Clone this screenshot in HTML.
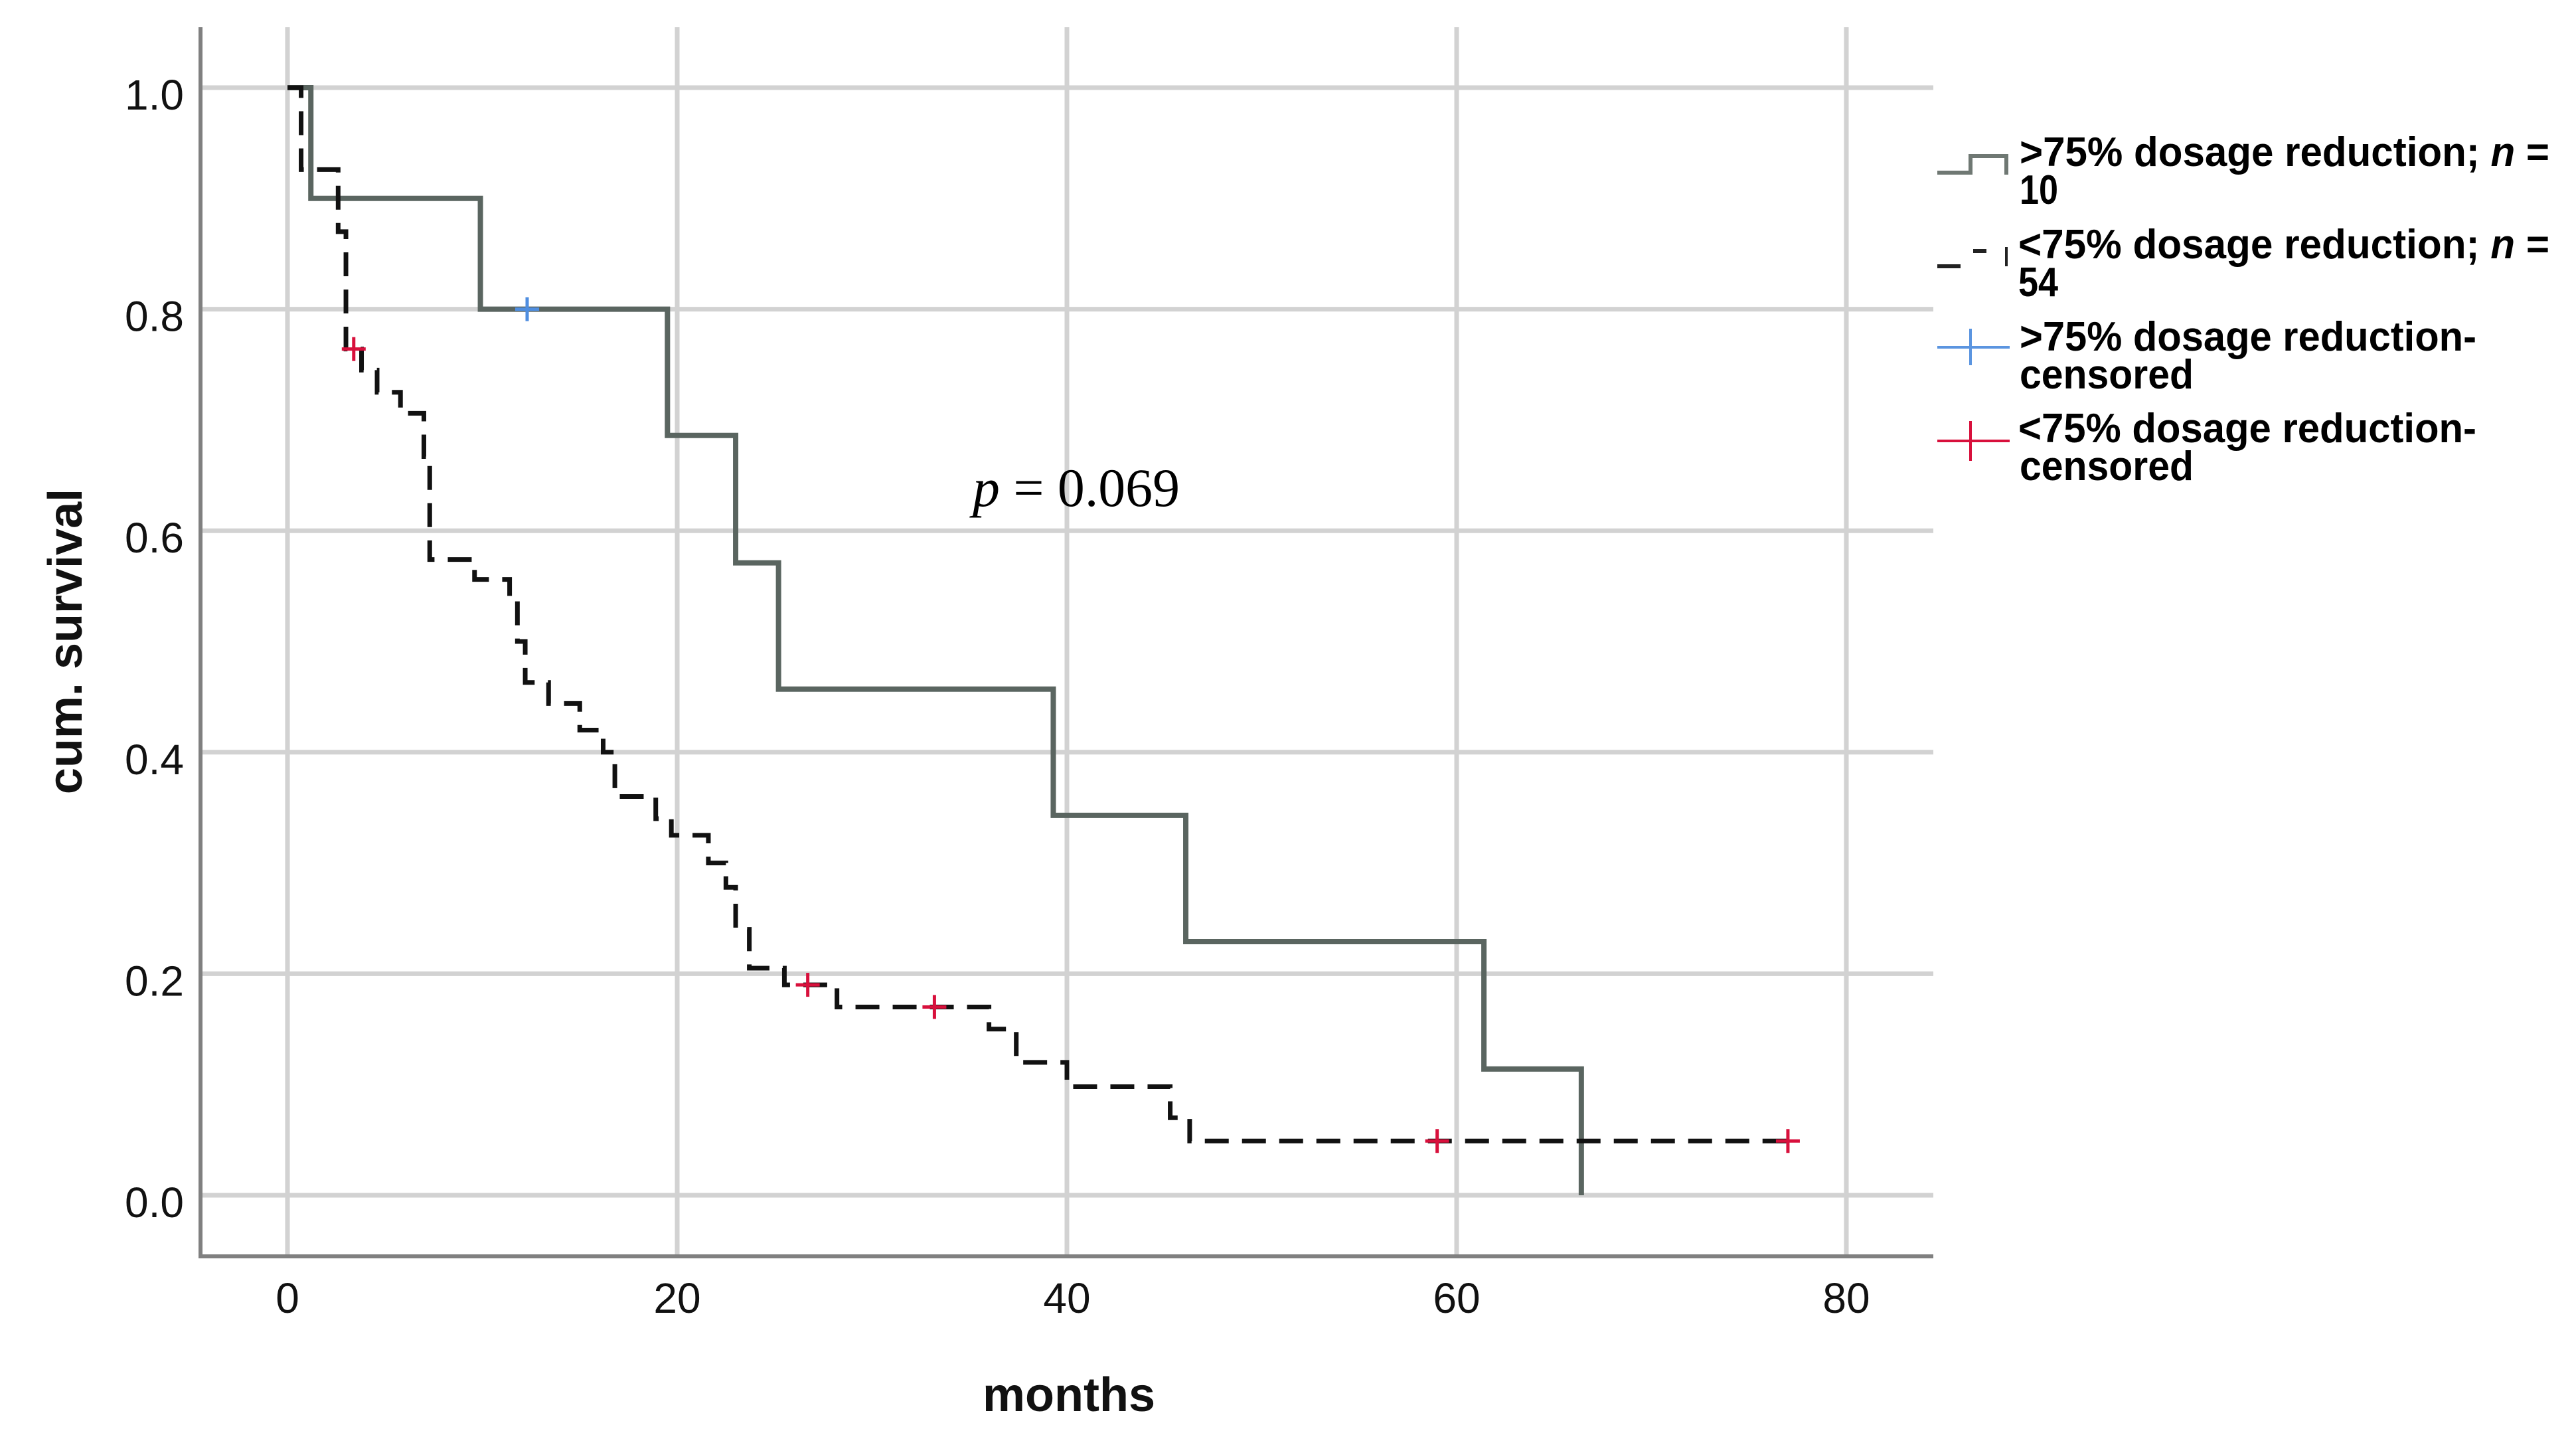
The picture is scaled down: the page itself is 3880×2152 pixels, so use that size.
<!DOCTYPE html>
<html><head><meta charset="utf-8"><style>
html,body{margin:0;padding:0;background:#fff;}
svg{display:block;}
</style></head><body>
<svg id="chart" width="3880" height="2152" viewBox="0 0 3880 2152" xmlns="http://www.w3.org/2000/svg">
<g id="grid"></g>
<g id="axes"></g>
<g id="series"></g>
<text x="1465" y="762" font-family="Liberation Serif, serif" font-size="82" fill="#000" textLength="312" lengthAdjust="spacingAndGlyphs"><tspan font-style="italic">p</tspan> = 0.069</text>
<text x="1610" y="2125" text-anchor="middle" font-family="Liberation Sans, sans-serif" font-weight="bold" font-size="72" fill="#111">months</text>
<text transform="translate(123,966) rotate(-90)" text-anchor="middle" font-family="Liberation Sans, sans-serif" font-weight="bold" font-size="72" fill="#111">cum. survival</text>
<g font-family="Liberation Sans, sans-serif" font-weight="bold" font-size="62" fill="#000">
  <g>
    <polyline points="2918,260 2968,260 2968,235 3022,235 3022,263" fill="none" stroke="#6f7873" stroke-width="6"/>
    <text x="3042" y="250" textLength="798" lengthAdjust="spacingAndGlyphs">&gt;75% dosage reduction; <tspan font-style="italic">n</tspan> =</text>
    <text x="3042" y="307" textLength="58" lengthAdjust="spacingAndGlyphs">10</text>
  </g>
  <g>
    <line x1="2918" y1="401" x2="2953" y2="401" stroke="#222" stroke-width="6"/>
    <line x1="2972" y1="378" x2="2992" y2="378" stroke="#222" stroke-width="6"/>
    <line x1="3022" y1="372" x2="3022" y2="401" stroke="#222" stroke-width="4"/>
    <text x="3040" y="389" textLength="800" lengthAdjust="spacingAndGlyphs">&lt;75% dosage reduction; <tspan font-style="italic">n</tspan> =</text>
    <text x="3040" y="446" textLength="60" lengthAdjust="spacingAndGlyphs">54</text>
  </g>
  <g>
    <line x1="2918" y1="523" x2="3027" y2="523" stroke="#5b95e0" stroke-width="4"/>
    <line x1="2968" y1="495" x2="2968" y2="550" stroke="#5b95e0" stroke-width="4"/>
    <text x="3042" y="528" textLength="688" lengthAdjust="spacingAndGlyphs">&gt;75% dosage reduction-</text>
    <text x="3042" y="585" textLength="262" lengthAdjust="spacingAndGlyphs">censored</text>
  </g>
  <g>
    <line x1="2918" y1="664" x2="3027" y2="664" stroke="#d8103c" stroke-width="4"/>
    <line x1="2968" y1="634" x2="2968" y2="694" stroke="#d8103c" stroke-width="4"/>
    <text x="3040" y="666" textLength="690" lengthAdjust="spacingAndGlyphs">&lt;75% dosage reduction-</text>
    <text x="3042" y="723" textLength="262" lengthAdjust="spacingAndGlyphs">censored</text>
  </g>
</g>
</svg>
<script>
const xTicks = [0, 20, 40, 60, 80];
const yTicks = [0.0, 0.2, 0.4, 0.6, 0.8, 1.0];
const yTickLabels = ["0.0", "0.2", "0.4", "0.6", "0.8", "1.0"];
// >75% group: event times and survival after each step
const highTimes = [1.2, 9.9, 19.5, 23.0, 25.2, 39.3, 46.1, 61.4, 66.4];
const highSurv = [0.9, 0.8, 0.686, 0.571, 0.457, 0.343, 0.229, 0.114, 0.0];
const highEnd = 66.4;
const highCensorTimes = [12.3];
const highCensorSurv = [0.8];
// <75% group
const lowTimes = [0.7, 2.6, 3.0, 3.8, 4.6, 5.8, 7.0, 7.3, 9.6, 11.4, 11.8, 12.2, 13.4, 15.0, 16.2, 16.8, 18.9, 19.7, 21.6, 22.5, 23.0, 23.7, 25.5, 28.2, 36.0, 37.4, 40.0, 45.3, 46.3];
const lowSurv = [0.926, 0.87, 0.764, 0.745, 0.725, 0.706, 0.667, 0.574, 0.556, 0.537, 0.5, 0.463, 0.444, 0.42, 0.4, 0.36, 0.34, 0.325, 0.3, 0.278, 0.24, 0.205, 0.19, 0.17, 0.15, 0.12, 0.098, 0.07, 0.049];
const lowEnd = 77;
const lowCensorTimes = [3.4, 26.7, 33.2, 59.0, 77.0];
const lowCensorSurv = [0.764, 0.19, 0.17, 0.049, 0.049];

const X0 = 433, X80 = 2781, Y0 = 1800, Y1 = 132;
const PL = 302, PR = 2912, PT = 41, PB = 1892;
function sx(v){ return X0 + (X80 - X0) * v / 80; }
function sy(v){ return Y0 + (Y1 - Y0) * v; }
const NS = "http://www.w3.org/2000/svg";
function mk(tag, attrs, parent){
  const e = document.createElementNS(NS, tag);
  for (const k in attrs) e.setAttribute(k, attrs[k]);
  parent.appendChild(e);
  return e;
}
const grid = document.getElementById('grid');
const axes = document.getElementById('axes');
const series = document.getElementById('series');

xTicks.forEach(function(t){
  const l = mk('line', {x1: sx(t), y1: PT, x2: sx(t), y2: PB, stroke: '#d2d2d2', 'stroke-width': 7}, grid);
  
  
  const tx = mk('text', {x: sx(t), y: 1977, 'text-anchor': 'middle', 'font-family': 'Liberation Sans, sans-serif', 'font-size': 64, fill: '#111'}, axes);
  tx.textContent = String(t);
  
  
});
yTicks.forEach(function(t, i){
  const l = mk('line', {x1: PL, y1: sy(t), x2: PR, y2: sy(t), stroke: '#d2d2d2', 'stroke-width': 7}, grid);
  
  
  const tx = mk('text', {x: 277, y: sy(t) + 33, 'text-anchor': 'end', 'font-family': 'Liberation Sans, sans-serif', 'font-size': 64, fill: '#111'}, axes);
  tx.textContent = yTickLabels[i];
  
  
});
const ya = mk('line', {x1: PL, y1: PT, x2: PL, y2: PB + 3, stroke: '#808080', 'stroke-width': 6}, axes);


const xa = mk('line', {x1: PL - 3, y1: PB, x2: PR, y2: PB, stroke: '#808080', 'stroke-width': 6}, axes);



function stepPath(times, surv, end){
  let d = 'M' + sx(0) + ',' + sy(1);
  let last = 1;
  times.forEach(function(t, i){
    d += ' L' + sx(t) + ',' + sy(last) + ' L' + sx(t) + ',' + sy(surv[i]);
    last = surv[i];
  });
  const lastT = times[times.length - 1];
  if (end > lastT) d += ' L' + sx(end) + ',' + sy(last);
  return d;
}
const hp = mk('path', {d: stepPath(highTimes, highSurv, highEnd), fill: 'none', stroke: '#5a6560', 'stroke-width': 8, 'stroke-linejoin': 'miter'}, series);


const lp = mk('path', {d: stepPath(lowTimes, lowSurv, lowEnd), fill: 'none', stroke: '#111', 'stroke-width': 7, 'stroke-dasharray': '36 20'}, series);



function cross(t, s, color, name){
  const g = mk('g', {}, series);
  
  
  mk('line', {x1: sx(t) - 18, y1: sy(s), x2: sx(t) + 18, y2: sy(s), stroke: color, 'stroke-width': 5}, g);
  mk('line', {x1: sx(t), y1: sy(s) - 18, x2: sx(t), y2: sy(s) + 18, stroke: color, 'stroke-width': 5}, g);
}
highCensorTimes.forEach(function(t, i){ cross(t, highCensorSurv[i], '#4f8ee0', 'high-censor-mark'); });
lowCensorTimes.forEach(function(t, i){ cross(t, lowCensorSurv[i], '#d8103c', 'low-censor-mark'); });
</script>
</body></html>
